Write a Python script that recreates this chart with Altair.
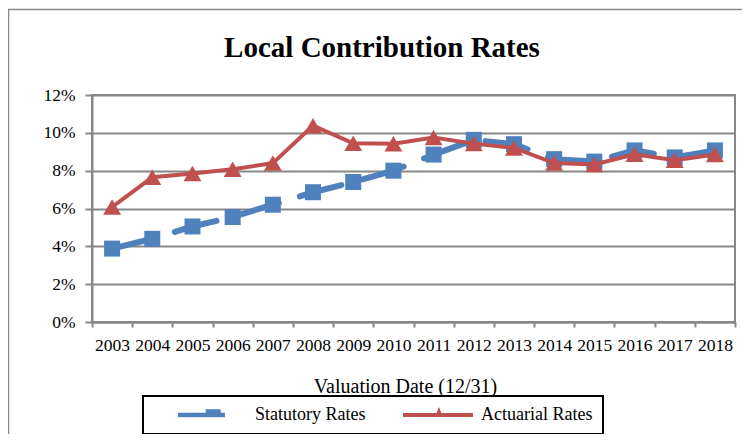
import altair as alt
import pandas as pd

# ---- data ----
years = [str(y) for y in range(2003, 2019)]
statutory = [0.0388, 0.0440, 0.0505, 0.0555, 0.0620, 0.0686, 0.0740, 0.0800,
             0.0885, 0.0963, 0.0940, 0.0861, 0.0848, 0.0907, 0.0870, 0.0907]
actuarial = [0.0608, 0.0765, 0.0785, 0.0807, 0.0840, 0.1038, 0.0945, 0.0942,
             0.0975, 0.0943, 0.0920, 0.0840, 0.0833, 0.0887, 0.0855, 0.0885]
series_names = ["Statutory Rates", "Actuarial Rates"]
series_colors = ["#4F81BD", "#C0504D"]
y_ticks = [0, 0.02, 0.04, 0.06, 0.08, 0.10, 0.12]
title_text = ["Local Contribution Rates"]
x_title = "Valuation Date (12/31)"

# legend symbols: line + small marker, as custom paths
# (the trailing lone "M" point only widens the legend frame to the right)
legend_paths = [
    "M-0.47,-0.05L0.53,-0.05L0.53,0.05L-0.47,0.05Z"
    "M0.12,-0.12L0.44,-0.12L0.44,0.05L0.12,0.05Z",
    "M-0.49,-0.043L1,-0.043L1,0.043L-0.49,0.043Z"
    "M0.19,0.043L0.277,-0.17L0.36,0.043Z"
    "M3.9,0",
]

df = pd.DataFrame({"year": years, "statutory": statutory, "actuarial": actuarial})
legend_df = pd.DataFrame({"series": series_names})
frame_df = pd.DataFrame({"k": [0]})
title_df = pd.DataFrame({"t": title_text})

FONT = "Liberation Serif"
GRAY = "#878787"

x_axis = alt.Axis(
    title=x_title, labelAngle=0, tickBand="extent", grid=False,
    tickSize=5, labelPadding=9, titleX=313, titleY=70.5,
    titleBaseline="alphabetic", titleAlign="center",
)
y_axis = alt.Axis(values=y_ticks, format=".0%", title=None, grid=True,
                  tickSize=7, labelPadding=10)

x_enc = alt.X("year:O", scale=alt.Scale(type="band", paddingInner=0, paddingOuter=0),
              bandPosition=0.5, axis=x_axis)
y_scale = alt.Scale(domain=[0, 0.12])

base = alt.Chart(df)

stat_line = base.mark_line(
    color=series_colors[0], strokeWidth=6, strokeDash=[43, 22], strokeCap="round"
).encode(x=x_enc, y=alt.Y("statutory:Q", scale=y_scale, axis=y_axis))

stat_pts = base.mark_point(
    shape="square", filled=True, size=256, color=series_colors[0], opacity=1
).encode(x=x_enc, y=alt.Y("statutory:Q", scale=y_scale, axis=y_axis))

act_line = base.mark_line(
    color=series_colors[1], strokeWidth=4
).encode(x=x_enc, y=alt.Y("actuarial:Q", scale=y_scale, axis=y_axis))

act_pts = base.mark_point(
    shape="triangle-up", filled=True, size=320, color=series_colors[1], opacity=1
).encode(x=x_enc, y=alt.Y("actuarial:Q", scale=y_scale, axis=y_axis))

legend_def = alt.Legend(
    orient="none", legendX=51, legendY=301, direction="horizontal", title=None,
    symbolSize=8836, clipHeight=18, padding=10, labelOffset=8, columnPadding=13,
    strokeColor="black", labelFont=FONT, labelFontSize=18, labelColor="black",
    symbolStrokeWidth=0, labelLimit=0,
)
legend_layer = alt.Chart(legend_df).transform_filter("false").mark_point(
    filled=True, opacity=1
).encode(
    color=alt.Color("series:N", scale=alt.Scale(domain=series_names, range=series_colors),
                    legend=legend_def),
    shape=alt.Shape("series:N", scale=alt.Scale(domain=series_names, range=legend_paths),
                    legend=legend_def),
)

frame = alt.Chart(frame_df).mark_rect(
    fillOpacity=0, stroke=GRAY, strokeWidth=1.5
).encode(x=alt.value(-83.5), y=alt.value(-85.5), x2=alt.value(800), y2=alt.value(500))

title_mark = alt.Chart(title_df).mark_text(
    font=FONT, fontSize=29, fontWeight="bold", color="black",
    align="center", baseline="alphabetic"
).encode(text="t:N", x=alt.value(290), y=alt.value(-38))

chart = alt.layer(frame, title_mark, stat_line, stat_pts, act_line, act_pts,
                  legend_layer).properties(
    width=643, height=227,
    autosize=alt.AutoSizeParams(type="none"),
    padding={"left": 84, "top": 87, "right": 7, "bottom": 112},
).configure_view(
    stroke=GRAY, strokeWidth=2
).configure_axis(
    domainColor=GRAY, domainWidth=2, tickColor=GRAY, tickWidth=2,
    gridColor=GRAY, gridWidth=2, labelFont=FONT, labelFontSize=17.5,
    labelColor="black", titleFont=FONT, titleFontSize=20,
    titleFontWeight="normal", titleColor="black",
).configure_legend(strokeWidth=2)

chart.save("out.html", embed_options={"renderer": "svg", "actions": False})
